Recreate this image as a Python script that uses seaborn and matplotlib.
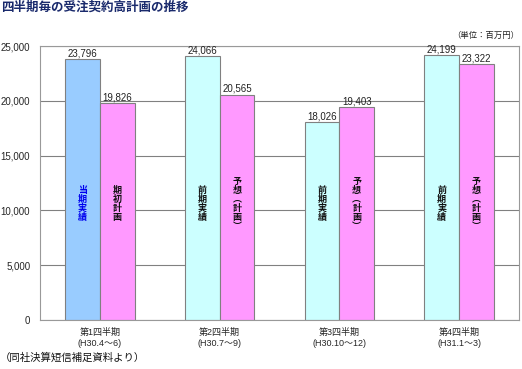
import pandas as pd
import matplotlib.pyplot as plt
import seaborn as sns

# chart data
quarters = ["第1四半期\n(H30.4～6)", "第2四半期\n(H30.7～9)",
            "第3四半期\n(H30.10～12)", "第4四半期\n(H31.1～3)"]
actual = [23796, 24066, 18026, 24199]
plan = [19826, 20565, 19403, 23322]
actual_names = ["当期実績", "前期実績", "前期実績", "前期実績"]
plan_names = ["期初計画", "予想︵計画︶", "予想︵計画︶", "予想︵計画︶"]
y_ticks = [0, 5000, 10000, 15000, 20000, 25000]

df = pd.DataFrame({
    "quarter": quarters * 2,
    "value": actual + plan,
    "series": ["実績"] * 4 + ["計画"] * 4,
})

sns.set_theme(style="white")
plt.rcParams["font.family"] = ["Liberation Sans", "Noto Sans CJK JP", "DejaVu Sans"]

fig = plt.figure(figsize=(5.22, 3.69), dpi=100)
ax = fig.add_axes([40 / 522, 49 / 369, 479 / 522, 274 / 369])

ax.set_axisbelow(True)
ax.yaxis.grid(True, color="#808080", linewidth=0.8)

sns.barplot(data=df, x="quarter", y="value", hue="series",
            palette=["#CCFFFF", "#FF99FF"], saturation=1, width=0.58, dodge=True,
            edgecolor="#808080", linewidth=0.8, legend=False, ax=ax)

# first actual bar is a different blue
ax.containers[0][0].set_facecolor("#99CCFF")

for cont, vals in zip(ax.containers, [actual, plan]):
    ax.bar_label(cont, labels=[f"{v:,}" for v in vals], padding=0.5,
                 fontsize=7, color="#222222")

# vertical labels inside bars
for cont, names in zip(ax.containers, [actual_names, plan_names]):
    for i, (bar, name) in enumerate(zip(cont, names)):
        col = "#0000EE" if (cont is ax.containers[0] and i == 0) else "#111111"
        ax.text(bar.get_x() + bar.get_width() / 2, 10600, "\n".join(name),
                ha="center", va="center", fontsize=6.5, fontweight="bold",
                color=col, linespacing=1.0, family=["Noto Sans CJK JP"])

ax.set_xlim(-0.5, 3.5)
ax.set_ylim(0, 25000)
ax.set_yticks(y_ticks)
ax.set_yticklabels([f"{t:,}" for t in y_ticks], fontsize=7)
ax.tick_params(axis="y", length=0, pad=7)
ax.tick_params(axis="x", length=0, pad=6, labelsize=6.5)
ax.set_xticks([0.5, 1.5, 2.5], minor=True)
ax.tick_params(axis="x", which="minor", length=3, direction="in", color="#808080")
ax.set_xlabel("")
ax.set_ylabel("")

for sp in ax.spines.values():
    sp.set_color("#999999")
    sp.set_linewidth(0.8)

fig.text(0.002, 0.998, "四半期毎の受注契約高計画の推移", ha="left", va="top",
         fontsize=9, fontweight="bold", color="#1A2A6C",
         family=["Noto Sans CJK JP"])
fig.text(0.995, 1 - 35 / 369, "（単位：百万円）", ha="right", va="center",
         fontsize=6, color="#222222", family=["Noto Sans CJK JP"])
fig.text(0.0, 1 - 358 / 369, "（同社決算短信補足資料より）", ha="left", va="center",
         fontsize=7.5, color="#111111", family=["Noto Sans CJK JP"])

fig.savefig("out.png", dpi=100)
